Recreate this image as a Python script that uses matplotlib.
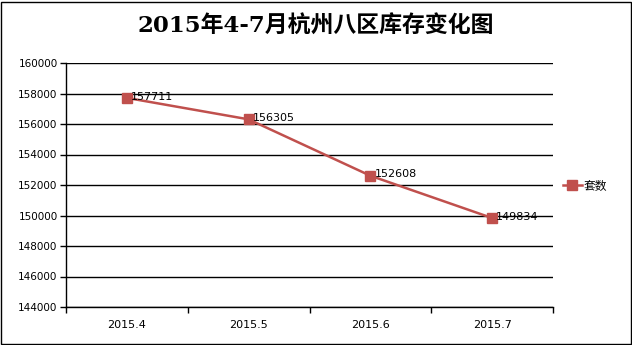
import matplotlib.pyplot as plt
from matplotlib.patches import Rectangle

months = ["2015.4", "2015.5", "2015.6", "2015.7"]
stock = [157711, 156305, 152608, 149834]
series_name = "套数"
title = "2015年4-7月杭州八区库存变化图"
y_min, y_max, y_step = 144000, 160000, 2000

red = "#C0504D"

fig = plt.figure(figsize=(6.32, 3.45), dpi=100)
ax = fig.add_axes([66 / 632, 1 - 307 / 345, (553 - 66) / 632, (307 - 63) / 345])

x = list(range(len(months)))
line, = ax.plot(x, stock, color=red, lw=1.8, marker="s", ms=7,
                mec=red, mfc=red, label=series_name, zorder=3)
for xi, v in zip(x, stock):
    ax.annotate(str(v), (xi, v), xytext=(3, 1), textcoords="offset points",
                ha="left", va="center", fontsize=8, zorder=4)

ax.set_xlim(-0.5, len(months) - 0.5)
ax.set_ylim(y_min, y_max)
ax.set_yticks(range(y_min, y_max + 1, y_step))
ax.yaxis.grid(True, color="black", lw=1)
ax.set_axisbelow(True)
ax.set_xticks(x)
ax.set_xticklabels(months, fontsize=8)
ax.set_xticks([i - 0.5 for i in range(len(months) + 1)], minor=True)
ax.tick_params(axis="x", which="major", length=0, pad=9)
ax.tick_params(axis="x", which="minor", length=4, width=1, direction="out")
ax.tick_params(axis="y", length=4, width=1, labelsize=7.5, pad=2)
for s in ("top", "right"):
    ax.spines[s].set_visible(False)
for s in ("left", "bottom"):
    ax.spines[s].set_linewidth(1)

fig.text(0.5, 1 - 27 / 345, title, ha="center", va="center", fontsize=16.5,
         fontweight="semibold", family=["DejaVu Serif", "Noto Sans CJK SC"])

fig.legend(handles=[line], labels=[series_name], loc="center left",
           bbox_to_anchor=(558 / 632, 1 - 186 / 345), frameon=False,
           prop={"family": ["Noto Sans CJK SC"], "size": 8.5},
           handlelength=1.6, handletextpad=0.2, borderaxespad=0)

fig.patches.append(Rectangle((1 / 632, 1 / 345), 630 / 632, 342 / 345,
                             transform=fig.transFigure, fill=False,
                             edgecolor="black", lw=1))

fig.savefig("out.png", dpi=100)
